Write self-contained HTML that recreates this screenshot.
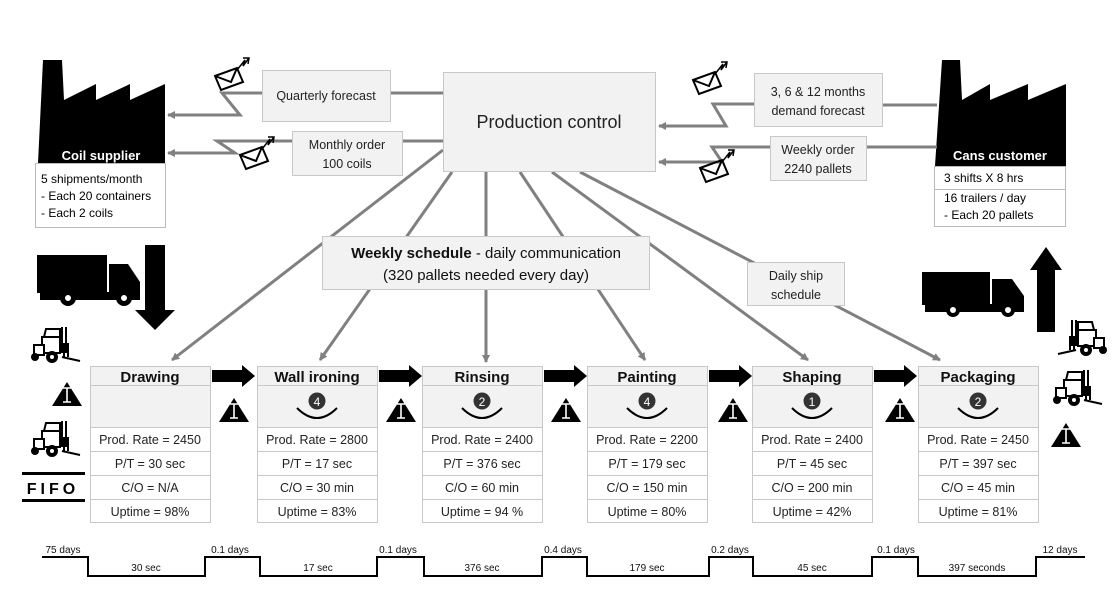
<!DOCTYPE html>
<html><head><meta charset="utf-8"><style>
body{margin:0;background:#fff}
svg{display:block;font-family:"Liberation Sans",sans-serif}
</style></head><body>
<svg width="1114" height="612" viewBox="0 0 1114 612" xmlns="http://www.w3.org/2000/svg">
<defs>
<marker id="ah" markerWidth="8" markerHeight="8" refX="7" refY="4" orient="auto" markerUnits="userSpaceOnUse"><path d="M0,0 L8,4 L0,8 Z" fill="#808080"/></marker>
<g id="fork">
 <rect x="12" y="10" width="18" height="16" fill="#fff" stroke="#000" stroke-width="2"/>
 <path d="M14,10 L16,2 L30,2 L30,10" fill="none" stroke="#000" stroke-width="2"/>
 <rect x="4" y="18" width="10" height="10" fill="#fff" stroke="#000" stroke-width="2"/>
 <path d="M32,0 V26 M36,0 V26 M34,16 V30 M38,16 V30 M32,30 L50,34" stroke="#000" stroke-width="2" fill="none"/>
 <circle cx="5" cy="30" r="4" fill="#000"/><circle cx="22" cy="30" r="6" fill="#000"/><circle cx="22" cy="30" r="2" fill="#fff"/>
</g>
<g id="tri"><path d="M0,24 L15,0 L30,24 Z" fill="#000"/><path d="M11,6 H19 M15,6 V20 M11,20 H19" stroke="#fff" stroke-width="1.6"/></g>
<g id="env"><path d="M0,8 L22,0 L28,14 L6,22 Z M0,8 L16,14 L22,0" fill="#fff" stroke="#000" stroke-width="2"/><path d="M22,2 L30,-8 L28,-2 L34,-10 M28,-10 L34,-10 L33,-4" stroke="#000" stroke-width="1.5" fill="none"/></g>
<g id="push"><path d="M0,-6 H30 V-11 L43,0 L30,11 V6 H0 Z" fill="#000"/></g>
</defs>

<!-- Coil supplier factory -->
<path d="M38,163 L43,60 L62,60 L64,100 L96,84 L96,100 L130,84 L130,100 L165,84 L165,163 Z" fill="#000"/>
<text x="101" y="160" fill="#fff" font-size="13" font-weight="bold" text-anchor="middle">Coil supplier</text>
<rect x="35.5" y="163.5" width="130" height="64" fill="#fff" stroke="#bbb"/>
<text x="41" y="183" font-size="12">5 shipments/month</text>
<text x="41" y="200" font-size="12">- Each 20 containers</text>
<text x="41" y="217" font-size="12">- Each 2 coils</text>

<!-- Cans customer factory -->
<path d="M935,166 L942,60 L960,60 L962,100 L990,84 L990,100 L1028,84 L1028,100 L1066,84 L1066,166 Z" fill="#000"/>
<text x="1000" y="160" fill="#fff" font-size="13" font-weight="bold" text-anchor="middle">Cans customer</text>
<rect x="934.5" y="166.5" width="131" height="60" fill="#fff" stroke="#bbb"/>
<line x1="934" y1="189.5" x2="1066" y2="189.5" stroke="#bbb"/>
<text x="944" y="182" font-size="12">3 shifts X 8 hrs</text>
<text x="944" y="202" font-size="12">16 trailers / day</text>
<text x="944" y="219" font-size="12">- Each 20 pallets</text>

<!-- info flows -->
<g stroke="#808080" stroke-width="3" fill="none">
<line x1="443" y1="93" x2="390" y2="93"/>
<path d="M262,93 H222 L240,115 H168" marker-end="url(#ah)"/>
<line x1="443" y1="141" x2="402" y2="141"/>
<path d="M292,141 H217 L235,153 H168" marker-end="url(#ah)"/>
<line x1="937" y1="105" x2="882" y2="105"/>
<path d="M754,104 H713 L726,126 H659" marker-end="url(#ah)"/>
<line x1="937" y1="147" x2="866" y2="147"/>
<path d="M770,147 H712 L722,162 H659" marker-end="url(#ah)"/>
<line x1="443" y1="150" x2="172" y2="360" marker-end="url(#ah)"/>
<line x1="452" y1="172" x2="320" y2="360" marker-end="url(#ah)"/>
<line x1="486" y1="172" x2="486" y2="362" marker-end="url(#ah)"/>
<line x1="520" y1="172" x2="645" y2="360" marker-end="url(#ah)"/>
<line x1="552" y1="172" x2="808" y2="360" marker-end="url(#ah)"/>
<line x1="580" y1="172" x2="940" y2="360" marker-end="url(#ah)"/>
</g>

<rect x="262.5" y="70.5" width="128" height="51" fill="#f2f2f2" stroke="#c8c8c8"/>
<text x="326" y="100" font-size="12.5" text-anchor="middle" fill="#222">Quarterly forecast</text>
<rect x="292.5" y="131.5" width="110" height="44" fill="#f2f2f2" stroke="#c8c8c8"/>
<text x="347" y="149" font-size="12.5" text-anchor="middle" fill="#222">Monthly order</text>
<text x="347" y="168" font-size="12.5" text-anchor="middle" fill="#222">100 coils</text>
<rect x="443.5" y="72.5" width="212" height="99" fill="#f2f2f2" stroke="#c8c8c8"/>
<text x="549" y="128" font-size="18" text-anchor="middle" fill="#222">Production control</text>
<rect x="754.5" y="73.5" width="128" height="53" fill="#f2f2f2" stroke="#c8c8c8"/>
<text x="818" y="96" font-size="12.5" text-anchor="middle" fill="#222">3, 6 &amp; 12 months</text>
<text x="818" y="115" font-size="12.5" text-anchor="middle" fill="#222">demand forecast</text>
<rect x="770.5" y="136.5" width="96" height="44" fill="#f2f2f2" stroke="#c8c8c8"/>
<text x="818" y="154" font-size="12.5" text-anchor="middle" fill="#222">Weekly order</text>
<text x="818" y="173" font-size="12.5" text-anchor="middle" fill="#222">2240 pallets</text>
<rect x="322.5" y="236.5" width="327" height="53" fill="#f2f2f2" stroke="#c8c8c8"/>
<text x="486" y="258" font-size="15" text-anchor="middle" fill="#111"><tspan font-weight="bold">Weekly schedule</tspan> - daily communication</text>
<text x="486" y="280" font-size="15" text-anchor="middle" fill="#111">(320 pallets needed every day)</text>
<rect x="747.5" y="262.5" width="97" height="43" fill="#f2f2f2" stroke="#c8c8c8"/>
<text x="796" y="280" font-size="12.5" text-anchor="middle" fill="#222">Daily ship</text>
<text x="796" y="299" font-size="12.5" text-anchor="middle" fill="#222">schedule</text>

<use href="#env" x="215" y="68"/>
<use href="#env" x="240" y="147"/>
<use href="#env" x="693" y="72"/>
<use href="#env" x="700" y="160"/>

<!-- trucks -->
<g fill="#000">
<rect x="37" y="255" width="70" height="38"/>
<path d="M109,264 H128 L140,282 V300 H109 Z"/>
<rect x="40" y="292" width="100" height="8"/>
<circle cx="68" cy="298" r="8"/><circle cx="124" cy="298" r="8"/>
<path d="M145,245 H165 V310 H175 L155,330 L135,310 H145 Z"/>
<rect x="922" y="272" width="68" height="33"/>
<path d="M992,279 H1012 L1024,296 V312 H992 Z"/>
<rect x="925" y="304" width="98" height="8"/>
<circle cx="953" cy="310" r="7"/><circle cx="1008" cy="310" r="7"/>
<path d="M1037,332 V270 H1030 L1046,247 L1062,270 H1055 V332 Z"/>
</g>
<circle cx="68" cy="298" r="3" fill="#fff"/><circle cx="124" cy="298" r="3" fill="#fff"/>
<circle cx="953" cy="310" r="3" fill="#fff"/><circle cx="1008" cy="310" r="3" fill="#fff"/>

<!-- forklifts -->
<use href="#fork" x="30" y="327"/>
<use href="#fork" x="30" y="421"/>
<use href="#fork" transform="translate(1108,320) scale(-1,1)"/>
<use href="#fork" x="1052" y="370"/>

<!-- triangles -->
<use href="#tri" x="52" y="382"/>
<use href="#tri" x="219" y="398"/>
<use href="#tri" x="386" y="398"/>
<use href="#tri" x="551" y="398"/>
<use href="#tri" x="718" y="398"/>
<use href="#tri" x="885" y="398"/>
<use href="#tri" x="1051" y="423"/>

<!-- FIFO -->
<rect x="22" y="472" width="63" height="3" fill="#000"/>
<rect x="22" y="499" width="63" height="3" fill="#000"/>
<text x="53" y="494" font-size="16" font-weight="bold" text-anchor="middle" letter-spacing="4">FIFO</text>

<!-- push arrows -->
<use href="#push" x="212" y="376"/>
<use href="#push" x="379" y="376"/>
<use href="#push" x="544" y="376"/>
<use href="#push" x="709" y="376"/>
<use href="#push" x="874" y="376"/>

<!-- process boxes -->
<g font-size="12.5" text-anchor="middle" fill="#222">
<g transform="translate(90,366)">
<rect x="0.5" y="0.5" width="120" height="156" fill="#fff" stroke="#c8c8c8"/>
<rect x="0.5" y="0.5" width="120" height="61" fill="#f2f2f2" stroke="#c8c8c8"/>
<line x1="0" y1="19.5" x2="121" y2="19.5" stroke="#c8c8c8"/>
<line x1="0" y1="85.5" x2="121" y2="85.5" stroke="#c8c8c8"/><line x1="0" y1="109.5" x2="121" y2="109.5" stroke="#c8c8c8"/><line x1="0" y1="133.5" x2="121" y2="133.5" stroke="#c8c8c8"/>
<text x="60" y="16" font-size="15" font-weight="bold" fill="#111">Drawing</text>
<text x="60" y="78">Prod. Rate = 2450</text><text x="60" y="102">P/T = 30 sec</text><text x="60" y="126">C/O = N/A</text><text x="60" y="150">Uptime = 98%</text>
</g>
<g transform="translate(257,366)">
<rect x="0.5" y="0.5" width="120" height="156" fill="#fff" stroke="#c8c8c8"/>
<rect x="0.5" y="0.5" width="120" height="61" fill="#f2f2f2" stroke="#c8c8c8"/>
<line x1="0" y1="19.5" x2="121" y2="19.5" stroke="#c8c8c8"/>
<line x1="0" y1="85.5" x2="121" y2="85.5" stroke="#c8c8c8"/><line x1="0" y1="109.5" x2="121" y2="109.5" stroke="#c8c8c8"/><line x1="0" y1="133.5" x2="121" y2="133.5" stroke="#c8c8c8"/>
<text x="60" y="16" font-size="15" font-weight="bold" fill="#111">Wall ironing</text>
<circle cx="60" cy="35" r="8.5" fill="#333"/><text x="60" y="40" font-size="12" fill="#fff">4</text><path d="M40,42 Q60,62 80,42" stroke="#000" stroke-width="2" fill="none"/>
<text x="60" y="78">Prod. Rate = 2800</text><text x="60" y="102">P/T = 17 sec</text><text x="60" y="126">C/O = 30 min</text><text x="60" y="150">Uptime = 83%</text>
</g>
<g transform="translate(422,366)">
<rect x="0.5" y="0.5" width="120" height="156" fill="#fff" stroke="#c8c8c8"/>
<rect x="0.5" y="0.5" width="120" height="61" fill="#f2f2f2" stroke="#c8c8c8"/>
<line x1="0" y1="19.5" x2="121" y2="19.5" stroke="#c8c8c8"/>
<line x1="0" y1="85.5" x2="121" y2="85.5" stroke="#c8c8c8"/><line x1="0" y1="109.5" x2="121" y2="109.5" stroke="#c8c8c8"/><line x1="0" y1="133.5" x2="121" y2="133.5" stroke="#c8c8c8"/>
<text x="60" y="16" font-size="15" font-weight="bold" fill="#111">Rinsing</text>
<circle cx="60" cy="35" r="8.5" fill="#333"/><text x="60" y="40" font-size="12" fill="#fff">2</text><path d="M40,42 Q60,62 80,42" stroke="#000" stroke-width="2" fill="none"/>
<text x="60" y="78">Prod. Rate = 2400</text><text x="60" y="102">P/T = 376 sec</text><text x="60" y="126">C/O = 60 min</text><text x="60" y="150">Uptime = 94 %</text>
</g>
<g transform="translate(587,366)">
<rect x="0.5" y="0.5" width="120" height="156" fill="#fff" stroke="#c8c8c8"/>
<rect x="0.5" y="0.5" width="120" height="61" fill="#f2f2f2" stroke="#c8c8c8"/>
<line x1="0" y1="19.5" x2="121" y2="19.5" stroke="#c8c8c8"/>
<line x1="0" y1="85.5" x2="121" y2="85.5" stroke="#c8c8c8"/><line x1="0" y1="109.5" x2="121" y2="109.5" stroke="#c8c8c8"/><line x1="0" y1="133.5" x2="121" y2="133.5" stroke="#c8c8c8"/>
<text x="60" y="16" font-size="15" font-weight="bold" fill="#111">Painting</text>
<circle cx="60" cy="35" r="8.5" fill="#333"/><text x="60" y="40" font-size="12" fill="#fff">4</text><path d="M40,42 Q60,62 80,42" stroke="#000" stroke-width="2" fill="none"/>
<text x="60" y="78">Prod. Rate = 2200</text><text x="60" y="102">P/T = 179 sec</text><text x="60" y="126">C/O = 150 min</text><text x="60" y="150">Uptime = 80%</text>
</g>
<g transform="translate(752,366)">
<rect x="0.5" y="0.5" width="120" height="156" fill="#fff" stroke="#c8c8c8"/>
<rect x="0.5" y="0.5" width="120" height="61" fill="#f2f2f2" stroke="#c8c8c8"/>
<line x1="0" y1="19.5" x2="121" y2="19.5" stroke="#c8c8c8"/>
<line x1="0" y1="85.5" x2="121" y2="85.5" stroke="#c8c8c8"/><line x1="0" y1="109.5" x2="121" y2="109.5" stroke="#c8c8c8"/><line x1="0" y1="133.5" x2="121" y2="133.5" stroke="#c8c8c8"/>
<text x="60" y="16" font-size="15" font-weight="bold" fill="#111">Shaping</text>
<circle cx="60" cy="35" r="8.5" fill="#333"/><text x="60" y="40" font-size="12" fill="#fff">1</text><path d="M40,42 Q60,62 80,42" stroke="#000" stroke-width="2" fill="none"/>
<text x="60" y="78">Prod. Rate = 2400</text><text x="60" y="102">P/T = 45 sec</text><text x="60" y="126">C/O = 200 min</text><text x="60" y="150">Uptime = 42%</text>
</g>
<g transform="translate(918,366)">
<rect x="0.5" y="0.5" width="120" height="156" fill="#fff" stroke="#c8c8c8"/>
<rect x="0.5" y="0.5" width="120" height="61" fill="#f2f2f2" stroke="#c8c8c8"/>
<line x1="0" y1="19.5" x2="121" y2="19.5" stroke="#c8c8c8"/>
<line x1="0" y1="85.5" x2="121" y2="85.5" stroke="#c8c8c8"/><line x1="0" y1="109.5" x2="121" y2="109.5" stroke="#c8c8c8"/><line x1="0" y1="133.5" x2="121" y2="133.5" stroke="#c8c8c8"/>
<text x="60" y="16" font-size="15" font-weight="bold" fill="#111">Packaging</text>
<circle cx="60" cy="35" r="8.5" fill="#333"/><text x="60" y="40" font-size="12" fill="#fff">2</text><path d="M40,42 Q60,62 80,42" stroke="#000" stroke-width="2" fill="none"/>
<text x="60" y="78">Prod. Rate = 2450</text><text x="60" y="102">P/T = 397 sec</text><text x="60" y="126">C/O = 45 min</text><text x="60" y="150">Uptime = 81%</text>
</g>
</g>

<!-- timeline -->
<path d="M42,557 H88 V576 H205 V557 H260 V576 H377 V557 H424 V576 H542 V557 H587 V576 H709 V557 H753 V576 H872 V557 H918 V576 H1036 V557 H1085" fill="none" stroke="#000" stroke-width="2"/>
<g font-size="10" fill="#111" text-anchor="middle">
<text x="63" y="553">75 days</text><text x="230" y="553">0.1 days</text><text x="398" y="553">0.1 days</text>
<text x="563" y="553">0.4 days</text><text x="730" y="553">0.2 days</text><text x="896" y="553">0.1 days</text><text x="1060" y="553">12 days</text>
<text x="146" y="571">30 sec</text><text x="318" y="571">17 sec</text><text x="482" y="571">376 sec</text>
<text x="647" y="571">179 sec</text><text x="812" y="571">45 sec</text><text x="977" y="571">397 seconds</text>
</g>
</svg>
</body></html>
